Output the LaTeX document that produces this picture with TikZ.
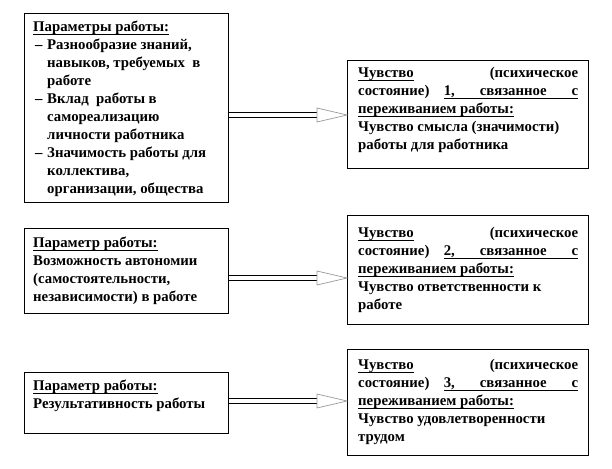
\documentclass[tikz,border=0pt]{standalone}
\usepackage{fontspec}
\setmainfont{Liberation Serif}
\newcommand\ulw[1]{\setbox0\hbox{#1}\rlap{\vrule height -2.6pt depth 3.9pt width \wd0}\box0}
\newcommand\ulfill{\leaders\vrule height -2.6pt depth 3.9pt\hskip 0.25em plus 2fil\relax}
\newcommand\itm{\hspace*{2pt}\makebox[12pt][l]{–}}
\newcommand\ind{\hspace*{14pt}}
\tikzset{
  box/.style={draw=black, line width=0.8pt, fill=white, inner sep=0pt, anchor=north west},
  txt/.style={inner sep=0pt, anchor=north west, align=left, font=\bfseries\fontsize{14.8}{18}\selectfont},
  shaft/.style={draw=black, line width=0.7pt, double=white, double distance=4.4pt},
  head/.style={draw=gray!80, fill=white, line width=0.7pt, line join=miter},
}
\begin{document}
\begin{tikzpicture}[x=1pt,y=-1pt]
\useasboundingbox (0,0) rectangle (612,468);
% boxes
\node[box, minimum width=204pt, minimum height=189pt] (A) at (24,13) {};
\node[box, minimum width=241pt, minimum height=108pt] (F1) at (347,60) {};
\node[box, minimum width=204pt, minimum height=85pt] (B) at (24,228) {};
\node[box, minimum width=241pt, minimum height=109pt] (F2) at (347,215) {};
\node[box, minimum width=204pt, minimum height=61pt] (C) at (24,372) {};
\node[box, minimum width=241pt, minimum height=106pt] (F3) at (347,349) {};
% texts
\node[txt] (At) at (33,19) {\rule{0pt}{12pt}\ulw{Параметры работы:}\\
\itm Разнообразие знаний,\\
\ind навыков, требуемых\ \ в\\
\ind работе\\
\itm Вклад\ \ работы в\\
\ind самореализацию\\
\ind личности работника\\
\itm Значимость работы для\\
\ind коллектива,\\
\ind организации, общества};
\node[txt] (F1t) at (358,65) {\rule{0pt}{12pt}\hbox to 220pt{\ulw{Чувство}\hfill(психическое}\\
\hbox to 220pt{состояние)\hskip 0.25em plus 1fil\ulw{1,}\ulfill\ulw{связанное}\ulfill\ulw{с}}\\
\ulw{переживанием работы:}\\
Чувство смысла (значимости)\\
работы для работника};
\node[txt] (Bt) at (33,235) {\rule{0pt}{12pt}\ulw{Параметр работы:}\\
Возможность автономии\\
(самостоятельности,\\
независимости) в работе};
\node[txt] (F2t) at (358,225) {\rule{0pt}{12pt}\hbox to 220pt{\ulw{Чувство}\hfill(психическое}\\
\hbox to 220pt{состояние)\hskip 0.25em plus 1fil\ulw{2,}\ulfill\ulw{связанное}\ulfill\ulw{с}}\\
\ulw{переживанием работы:}\\
Чувство ответственности к\\
работе};
\node[txt] (Ct) at (33,378) {\rule{0pt}{12pt}\ulw{Параметр работы:}\\
Результативность работы};
\node[txt] (F3t) at (358,357) {\rule{0pt}{12pt}\hbox to 220pt{\ulw{Чувство}\hfill(психическое}\\
\hbox to 220pt{состояние)\hskip 0.25em plus 1fil\ulw{3,}\ulfill\ulw{связанное}\ulfill\ulw{с}}\\
\ulw{переживанием работы:}\\
Чувство удовлетворенности\\
трудом};
% arrows
\coordinate (s1) at (A.east |- 0,115);
\coordinate (t1) at (F1.west |- 0,115);
\coordinate (s2) at (B.east |- 0,278);
\coordinate (t2) at (F2.west |- 0,278);
\coordinate (s3) at (C.east |- 0,401);
\coordinate (t3) at (F3.west |- 0,401);
\foreach \s/\t in {s1/t1, s2/t2, s3/t3}{
  \draw[shaft] (\s) -- ([xshift=-29pt]\t);
  \draw[head] ([xshift=-30pt,yshift=7pt]\t) -- (\t) -- ([xshift=-30pt,yshift=-7pt]\t) -- cycle;
}
\end{tikzpicture}
\end{document}
